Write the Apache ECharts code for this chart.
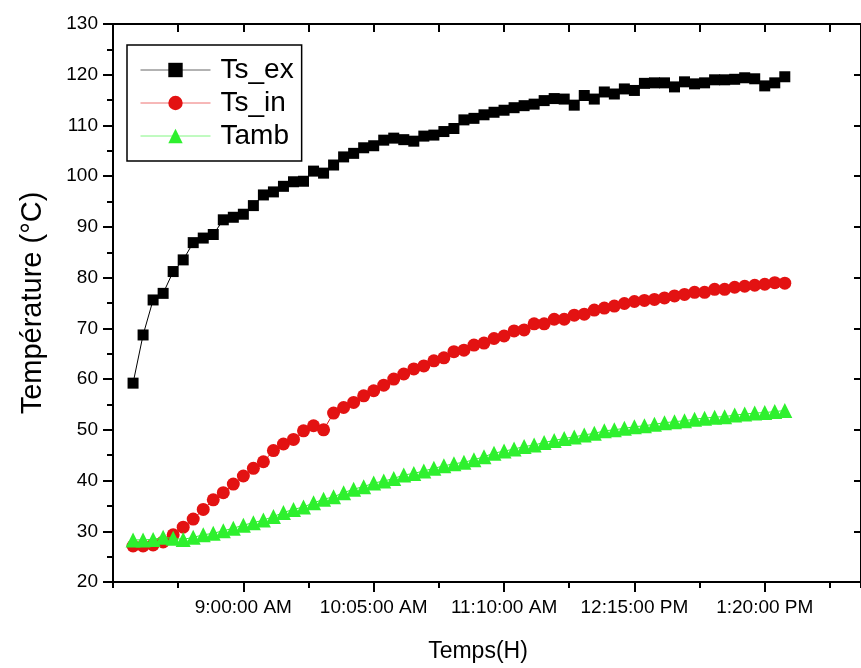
<!DOCTYPE html>
<html>
<head>
<meta charset="utf-8">
<script src="https://cdn.jsdelivr.net/npm/echarts@6/dist/echarts.min.js"></script>
<style>
html,body{margin:0;padding:0;background:#fff;}
#chart{width:861px;height:668px;}
</style>
</head>
<body>
<div id="chart"></div>
<script>
// Sample times (clock, 24h)
const times = ['8:05','8:10','8:15','8:20','8:25','8:30','8:35','8:40','8:45','8:50','8:55',
  '9:00','9:05','9:10','9:15','9:20','9:25','9:30','9:35','9:40','9:45','9:50','9:55',
  '10:00','10:05','10:10','10:15','10:20','10:25','10:30','10:35','10:40','10:45','10:50','10:55',
  '11:00','11:05','11:10','11:15','11:20','11:25','11:30','11:35','11:40','11:45','11:50','11:55',
  '12:00','12:05','12:10','12:15','12:20','12:25','12:30','12:35','12:40','12:45','12:50','12:55',
  '13:00','13:05','13:10','13:15','13:20','13:25','13:30'];

const tsEx = [59.2, 68.7, 75.6, 76.9, 81.2, 83.5, 86.9, 87.8, 88.5, 91.4,
  91.9, 92.5, 94.2, 96.3, 96.9, 98.0, 98.9, 99.0, 101.0, 100.6,
  102.2, 103.8, 104.5, 105.6, 106.0, 107.1, 107.5, 107.2, 106.9, 107.9,
  108.1, 108.8, 109.4, 111.1, 111.4, 112.1, 112.6, 113.0, 113.5, 113.9,
  114.2, 114.9, 115.3, 115.2, 114.0, 115.9, 115.2, 116.6, 116.2, 117.2,
  116.9, 118.3, 118.4, 118.4, 117.6, 118.6, 118.2, 118.4, 119.0, 119.0,
  119.1, 119.4, 119.2, 117.8, 118.4, 119.6];

const tsIn = [27.1, 27.1, 27.3, 27.9, 29.3, 30.8, 32.4, 34.3, 36.2, 37.6,
  39.3, 40.9, 42.4, 43.7, 45.9, 47.2, 48.1, 49.8, 50.8, 50.0,
  53.3, 54.4, 55.4, 56.7, 57.7, 58.8, 60.0, 61.0, 62.0, 62.6,
  63.6, 64.2, 65.4, 65.7, 66.7, 67.1, 68.0, 68.5, 69.5, 69.7,
  70.9, 70.9, 71.8, 71.8, 72.6, 72.8, 73.6, 74.0, 74.4, 74.9,
  75.3, 75.5, 75.7, 76.0, 76.4, 76.7, 77.1, 77.1, 77.7, 77.7,
  78.1, 78.3, 78.5, 78.7, 79.0, 78.9];

const tamb = [28.3, 28.3, 28.4, 28.8, 28.6, 28.4, 28.8, 29.3, 29.6, 30.1,
  30.6, 31.2, 31.7, 32.2, 32.9, 33.7, 34.3, 34.8, 35.6, 36.3,
  36.8, 37.6, 38.3, 38.8, 39.5, 39.9, 40.4, 41.1, 41.4, 41.9,
  42.4, 42.9, 43.3, 43.6, 44.1, 44.7, 45.4, 45.8, 46.2, 46.7,
  47.0, 47.5, 47.9, 48.3, 48.6, 49.0, 49.3, 49.8, 50.0, 50.3,
  50.6, 50.8, 51.1, 51.4, 51.6, 51.8, 52.1, 52.3, 52.5, 52.6,
  52.9, 53.1, 53.3, 53.4, 53.6, 53.8];

const seriesNames = ['Ts_ex', 'Ts_in', 'Tamb'];
const xTickLabels = ['9:00:00 AM', '10:05:00 AM', '11:10:00 AM', '12:15:00 PM', '1:20:00 PM'];
const axisStart = '7:55';   // left end of time axis
const axisEndMin = 373;     // minutes shown after axisStart
const majorStep = 65;       // minutes between labelled ticks

function toMin(s) { const p = s.split(':'); return (+p[0]) * 60 + (+p[1]); }
const t0 = toMin(axisStart);
const xs = times.map(t => toMin(t) - t0);
const pairs = arr => arr.map((v, i) => [xs[i], v]);

const FONT = '"Liberation Sans", Arial, sans-serif';
const BLACK = '#000';

function xLabel(v) {
  const k = Math.round(v / majorStep);
  if (Math.abs(v - k * majorStep) > 1e-6) return '';
  const idx = k - 1;
  return (idx >= 0 && idx < xTickLabels.length) ? xTickLabels[idx] : '';
}

const chart = echarts.init(document.getElementById('chart'), null, {renderer: 'canvas'});
chart.setOption({
  animation: false,
  backgroundColor: '#fff',
  grid: {left: 113, top: 24, width: 752, height: 558, containLabel: false},
  legend: {
    orient: 'vertical', left: 127, top: 45,
    padding: [11, 8, 11, 13], itemGap: 5, itemWidth: 70, itemHeight: 18,
    borderColor: BLACK, borderWidth: 1.5, borderRadius: 0,
    textStyle: {fontSize: 28, fontFamily: FONT, color: BLACK, padding: [0, 0, 0, 5]},
    lineStyle: {width: 1, opacity: 0.6},
    data: seriesNames
  },
  xAxis: [
    {
      type: 'value', position: 'bottom', min: 0, max: axisEndMin, interval: majorStep,
      axisLine: {show: true, onZero: false, lineStyle: {color: BLACK, width: 2}},
      axisTick: {show: true, inside: false, length: 10, lineStyle: {color: BLACK, width: 2}},
      axisLabel: {formatter: xLabel, margin: 16, fontSize: 19, fontFamily: FONT, color: BLACK, showMinLabel: false, showMaxLabel: false},
      splitLine: {show: false},
      name: 'Temps(H)', nameLocation: 'middle', nameGap: 58,
      nameTextStyle: {fontSize: 23, fontFamily: FONT, color: BLACK, padding: [0, 18, 0, 0]}
    },
    {
      type: 'value', position: 'bottom', min: 0, max: axisEndMin, interval: majorStep / 2,
      axisLine: {show: false, onZero: false},
      axisTick: {show: true, inside: false, length: 6, lineStyle: {color: BLACK, width: 2}},
      axisLabel: {show: false}, splitLine: {show: false}
    },
    {
      type: 'value', position: 'top', min: 0, max: axisEndMin, interval: majorStep / 2,
      axisLine: {show: true, onZero: false, lineStyle: {color: BLACK, width: 2}},
      axisTick: {show: true, inside: true, length: 8, lineStyle: {color: BLACK, width: 2}},
      axisLabel: {show: false}, splitLine: {show: false}
    }
  ],
  yAxis: [
    {
      type: 'value', position: 'left', min: 20, max: 130, interval: 10,
      axisLine: {show: true, onZero: false, lineStyle: {color: BLACK, width: 2}},
      axisTick: {show: true, inside: false, length: 10, lineStyle: {color: BLACK, width: 2}},
      minorTick: {show: true, splitNumber: 2, length: 6, lineStyle: {color: BLACK, width: 2}},
      axisLabel: {margin: 15, fontSize: 19, fontFamily: FONT, color: BLACK},
      splitLine: {show: false},
      name: 'Température (°C)', nameLocation: 'middle', nameGap: 66,
      nameTextStyle: {fontSize: 29, fontFamily: FONT, color: BLACK}
    },
    {
      type: 'value', position: 'right', min: 20, max: 130, interval: 10,
      axisLine: {show: true, onZero: false, lineStyle: {color: BLACK, width: 2}},
      axisTick: {show: true, inside: true, length: 7, lineStyle: {color: BLACK, width: 2}},
      axisLabel: {show: false}, splitLine: {show: false}
    }
  ],
  series: [
    {
      name: 'Ts_ex', type: 'line', xAxisIndex: 0, yAxisIndex: 0,
      data: pairs(tsEx), symbol: 'rect', symbolSize: 11,
      itemStyle: {color: '#000'}, lineStyle: {color: '#000', width: 1}, z: 2
    },
    {
      name: 'Ts_in', type: 'line', xAxisIndex: 0, yAxisIndex: 0,
      data: pairs(tsIn), symbol: 'circle', symbolSize: 13,
      itemStyle: {color: '#e31212'}, lineStyle: {color: '#e31212', width: 1}, z: 3
    },
    {
      name: 'Tamb', type: 'line', xAxisIndex: 0, yAxisIndex: 0,
      data: pairs(tamb), symbol: 'triangle', symbolSize: 15,
      itemStyle: {color: '#2ef02e'}, lineStyle: {color: '#2ef02e', width: 1}, z: 4
    }
  ]
});
</script>
</body>
</html>
